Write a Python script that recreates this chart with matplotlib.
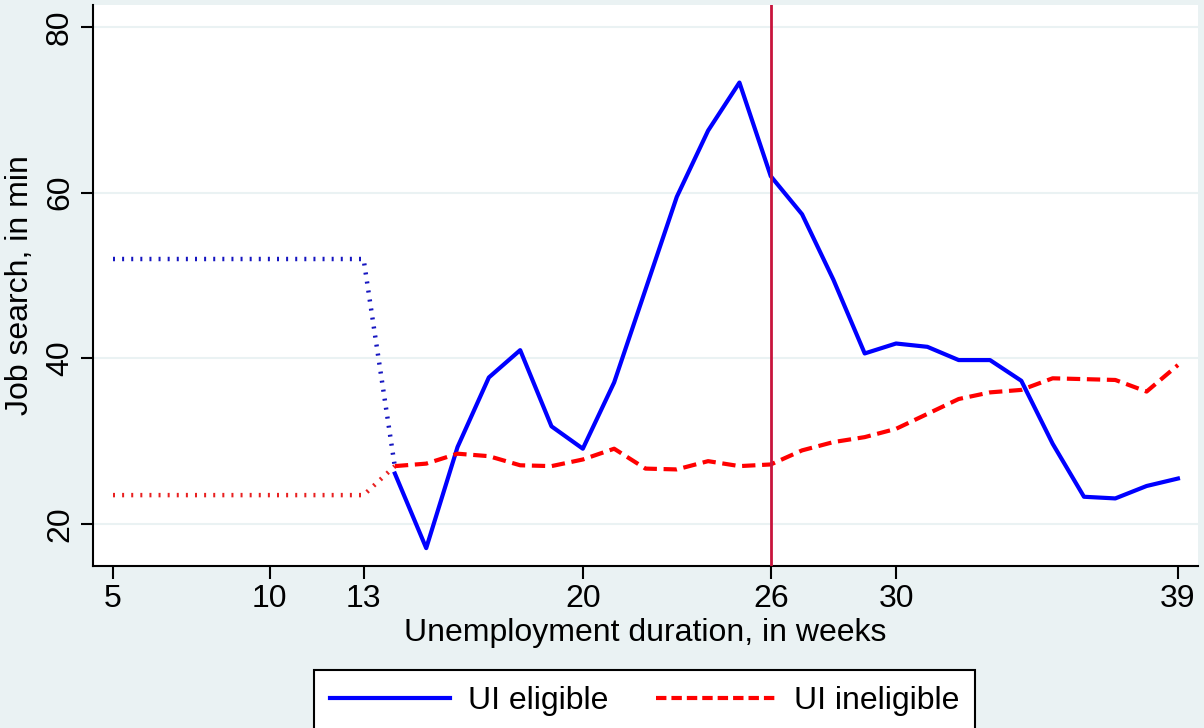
import matplotlib.pyplot as plt
import numpy as np
from matplotlib.lines import Line2D

plt.rcParams.update({'font.family': 'Liberation Sans',
                     'font.size': 23})

bg_color = '#EAF2F3'

# weeks with observed data
weeks = np.arange(14, 40)
eligible = [26.1, 17.1, 29.3, 37.7, 41.0, 31.8, 29.1, 37.1, 48.3, 59.5,
            67.5, 73.3, 62.0, 57.4, 49.5, 40.6, 41.8, 41.4, 39.8, 39.8,
            37.3, 29.7, 23.3, 23.1, 24.6, 25.5]
ineligible = [27.0, 27.3, 28.5, 28.2, 27.1, 27.0, 27.8, 29.1, 26.7, 26.6,
              27.6, 27.0, 27.2, 28.9, 29.9, 30.5, 31.5, 33.3, 35.1, 35.9,
              36.2, 37.6, 37.5, 37.4, 36.0, 39.2]

# pre-period averages (dotted)
pre_weeks = [5, 13, 14]
eligible_pre = [52.0, 52.0, 26.9]
ineligible_pre = [23.5, 23.5, 27.0]

xticks = [5, 10, 13, 20, 26, 30, 39]
yticks = [20, 40, 60, 80]
cutoff = 26

fig = plt.figure(figsize=(12.04, 7.28), dpi=100, facecolor=bg_color)
ax = fig.add_axes([0.0772, 0.2225, 0.9178, 0.7705])
ax.set_facecolor('white')

for y in yticks:
    ax.axhline(y, color=bg_color, linewidth=1.5, zorder=0)

dot_style = (0, (0.45, 1.6))
ax.plot(pre_weeks, eligible_pre, color='#1515C0', linewidth=3.2,
        linestyle=dot_style, dash_capstyle='butt', zorder=2)
ax.plot(pre_weeks, ineligible_pre, color='#E82020', linewidth=3.2,
        linestyle=dot_style, dash_capstyle='butt', zorder=2)

ax.plot(weeks, eligible, color='#0000FF', linewidth=3, zorder=3)
ax.plot(weeks, ineligible, color='#FF0000', linewidth=3,
        linestyle=(0, (3.2, 1.6)), dash_capstyle='butt', zorder=3)

ax.axvline(cutoff, color='#C8143C', linewidth=2, zorder=4)

ax.set_xlim(4.36, 39.64)
ax.set_ylim(14.94, 82.65)
ax.set_xticks(xticks)
ax.set_yticks(yticks)
ax.set_yticklabels([str(v) for v in yticks], rotation=90, va='center')

ax.spines['top'].set_visible(False)
ax.spines['right'].set_visible(False)
ax.spines['left'].set_linewidth(1.5)
ax.spines['bottom'].set_linewidth(1.5)
ax.tick_params(axis='both', length=9, width=1.5, colors='black', pad=4)

ax.set_xlabel('Unemployment duration, in weeks', labelpad=3)
ax.set_ylabel('Job search, in min', labelpad=7)

handles = [Line2D([0], [0], color='#0000FF', linewidth=3),
           Line2D([0], [0], color='#FF0000', linewidth=3,
                  linestyle=(0, (2.5, 1.2)), dash_capstyle='butt')]
leg = fig.legend(handles, ['UI eligible', 'UI ineligible'], loc='center',
                 bbox_to_anchor=(0.5353, 0.037), ncol=2, frameon=True,
                 fancybox=False, edgecolor='black', framealpha=1,
                 handlelength=3.76, columnspacing=1.5, borderpad=0.5,
                 handletextpad=0.56)
leg.get_frame().set_linewidth(1.5)

plt.savefig('out.png', dpi=100, facecolor=bg_color)
